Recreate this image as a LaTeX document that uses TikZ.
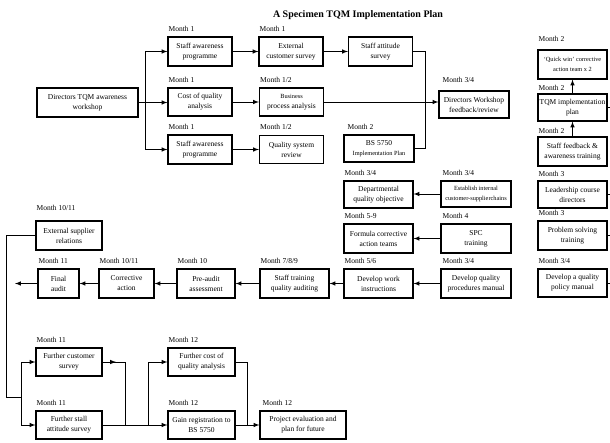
\documentclass[tikz,border=0pt]{standalone}
\usepackage{fontspec}
\setmainfont{Liberation Serif}
\usetikzlibrary{arrows,positioning,calc}
\newcommand{\stepsmall}{\fontsize{6.3}{7}\selectfont}

\begin{document}
\begin{tikzpicture}[x=1pt,y=-1pt] % one unit is one pixel of the plan, y runs down
\tikzset{box/.style 2 args={draw, line width=1.1pt, align=center, inner sep=1pt, minimum width=#1pt, minimum height=#2pt, font=\fontsize{7.5}{10}\selectfont}} % a step of the plan
\tikzset{month/.style={inner sep=1pt, font=\fontsize{7.5}{9}\selectfont}} % time label above a step
\tikzset{conn/.style={line width=1pt}, arr/.style={conn, -latex}} % connectors
\useasboundingbox (0,0) rectangle (610,442);
\node[font=\bfseries\fontsize{10}{12}\selectfont] (title) at (358,15) {A Specimen TQM Implementation Plan};
% first block
\node[box={101}{29}] (dtw) at (87.5,102.5) {Directors TQM awareness\\workshop};
\node[box={64}{29}] (saw1) at (200,51.5) {Staff awareness\\programme};
\node[box={64}{28}] (coq) at (200,102) {Cost of quality\\analysis};
\node[box={64}{29}] (saw2) at (200,149.5) {Staff awareness\\programme};
\node[box={64}{29}] (ecs) at (291,51.5) {External\\customer survey};
\node[box={64}{28}] (bpa) at (291.5,102) {{\stepsmall Business}\\process analysis};
\node[box={64}{28}] (qsr) at (291.5,149.5) {Quality system\\review};
\node[box={64}{29}] (sas) at (380.5,51.5) {Staff attitude\\survey};
\node[box={70}{27}] (bs) at (379,148.5) {BS 5750\\{\stepsmall Implementation Plan}};
\node[box={70}{27}] (dwf) at (474,104.5) {Directors Workshop\\feedback/review};
% middle block
\node[box={69}{27}] (dqo) at (378.5,194.5) {Departmental\\quality objective};
\node[box={69}{29}] (fca) at (378.5,238.5) {Formula corrective\\action teams};
\node[box={69}{29}] (dwi) at (378.5,283.5) {Develop work\\instructions};
\node[box={70}{26}] (eic) at (476,194) {{\stepsmall Establish internal}\\{\stepsmall customer-supplierchains}};
\node[box={70}{29}] (spc) at (476,238.5) {SPC\\training};
\node[box={70}{29}] (dqp) at (476,283.5) {Develop quality\\procedures manual};
\node[box={69}{29}] (stq) at (294.5,283.5) {Staff training\\quality auditing};
\node[box={58}{29}] (paa) at (206,283.5) {Pre-audit\\assessment};
\node[box={55}{29}] (cra) at (126.5,283.5) {Corrective\\action};
\node[box={41}{29}] (fau) at (58.5,283.5) {Final\\audit};
\node[box={66}{29}] (esr) at (69,235.5) {External supplier\\relations};
% last block
\node[box={66}{28}] (fcs) at (69,362) {Further customer\\survey};
\node[box={66}{28}] (fsa) at (69,425) {Further stall\\attitude survey};
\node[box={67}{28}] (fcq) at (201.5,362) {Further cost of\\quality analysis};
\node[box={67}{28}] (grb) at (201.5,425) {Gain registration to\\BS 5750};
\node[box={86}{28}] (pef) at (303,425) {Project evaluation and\\plan for future};
% right column
\node[box={69}{29}] (qwc) at (572.5,64.5) {{\stepsmall `Quick win' corrective}\\{\stepsmall action team x 2}};
\node[box={69}{27}] (tip) at (572.5,107.5) {TQM implementation\\plan};
\node[box={69}{29}] (sfa) at (572.5,151.5) {Staff feedback \&\\awareness training};
\node[box={69}{27}] (lcd) at (572.5,194.5) {Leadership course\\directors};
\node[box={69}{29}] (pst) at (572.5,235.5) {Problem solving\\training};
\node[box={69}{28}] (dqm) at (572.5,283) {Develop a quality\\policy manual};
% month labels
\node[month, above right=4pt and 0pt of saw1.north west] (m-saw1) {Month 1};
\node[month, above right=4pt and 0pt of coq.north west] (m-coq) {Month 1};
\node[month, above right=4pt and 0pt of saw2.north west] (m-saw2) {Month 1};
\node[month, above right=4pt and 0pt of ecs.north west] (m-ecs) {Month 1};
\node[month, above right=4pt and 0pt of bpa.north west] (m-bpa) {Month 1/2};
\node[month, above right=4pt and 0pt of qsr.north west] (m-qsr) {Month 1/2};
\node[month, above right=4pt and 3pt of bs.north west] (m-bs) {Month 2};
\node[month, above right=7pt and 3pt of dwf.north west] (m-dwf) {Month 3/4};
\node[month, above right=4pt and 0pt of dqo.north west] (m-dqo) {Month 3/4};
\node[month, above right=4pt and 0pt of fca.north west] (m-fca) {Month 5-9};
\node[month, above right=4pt and 0pt of dwi.north west] (m-dwi) {Month 5/6};
\node[month, above right=4pt and 1pt of eic.north west] (m-eic) {Month 3/4};
\node[month, above right=4pt and 1pt of spc.north west] (m-spc) {Month 4};
\node[month, above right=4pt and 1pt of dqp.north west] (m-dqp) {Month 3/4};
\node[month, above right=4pt and 0pt of stq.north west] (m-stq) {Month 7/8/9};
\node[month, above right=4pt and 0pt of paa.north west] (m-paa) {Month 10};
\node[month, above right=4pt and 0pt of cra.north west] (m-cra) {Month 10/11};
\node[month, above right=4pt and 0pt of fau.north west] (m-fau) {Month 11};
\node[month, above right=9pt and 0pt of esr.north west] (m-esr) {Month 10/11};
\node[month, above right=4pt and 0pt of fcs.north west] (m-fcs) {Month 11};
\node[month, above right=4pt and 0pt of fsa.north west] (m-fsa) {Month 11};
\node[month, above right=4pt and 0pt of fcq.north west] (m-fcq) {Month 12};
\node[month, above right=4pt and 0pt of grb.north west] (m-grb) {Month 12};
\node[month, above right=4pt and 2pt of pef.north west] (m-pef) {Month 12};
\node[month, above right=7pt and 0pt of qwc.north west] (m-qwc) {Month 2};
\node[month, above right=2pt and 0pt of tip.north west] (m-tip) {Month 2};
\node[month, above right=2pt and 0pt of sfa.north west] (m-sfa) {Month 2};
\node[month, above right=3pt and 0pt of lcd.north west] (m-lcd) {Month 3};
\node[month, above right=4pt and 0pt of pst.north west] (m-pst) {Month 3};
\node[month, above right=4pt and 0pt of dqm.north west] (m-dqm) {Month 3/4};
% connectors, first block
\coordinate (dsplit) at ($(dtw.east)+(7,0)$);
\draw[conn] (dtw.east) -- (dsplit);
\draw[arr] (dsplit) |- (saw1);
\draw[arr] (dsplit) -- (dsplit -| coq.west);
\draw[arr] (dsplit) |- (saw2);
\draw[arr] (saw1.east) -- (ecs.west);
\draw[arr] (coq.east) -- (bpa.west);
\draw[arr] (saw2.east) -- (qsr.west);
\draw[arr] (ecs.east) -- (sas.west);
\coordinate (sbend) at ($(sas.east)+(12,0)$);
\draw[conn] (sas.east) -- (sbend) |- (bs.east);
\draw[arr] (bpa.east) -- (bpa.east -| dwf.west);
% connectors, middle block
\draw[arr] (eic.west) -- (eic.west -| dqo.east);
\draw[arr] (spc.west) -- (fca.east);
\draw[arr] (dqp.west) -- (dwi.east);
\draw[arr] (dwi.west) -- (stq.east);
\draw[arr] (stq.west) -- (paa.east);
\draw[arr] (paa.west) -- (cra.east);
\draw[arr] (cra.west) -- (fau.east);
\coordinate (out) at (15,283.5);
\draw[arr] (fau.west) -- (out);
% connectors, last block
\coordinate (eleft) at (6,235.5);
\coordinate (esplit) at (21,397);
\draw[conn] (esr.west) -- (eleft) |- (esplit);
\draw[arr] (esplit) |- (fcs);
\draw[arr] (esplit) |- (fsa);
\coordinate (fjoin) at (125,425);
\draw[conn] (fcs.east) -| (fjoin);
\draw[arr] (fcs.east) -- ($(fcs.east)!0.6!(fjoin |- fcs.east)$);
\draw[arr] (fsa.east) -- (grb.west);
\coordinate (gsplit) at (148,425);
\draw[arr] (gsplit) |- (fcq);
\coordinate (fcqbend) at (247,362);
\draw[conn] (fcq.east) -- (fcqbend) -- (fcqbend |- pef.west);
\draw[arr] (grb.east) -- (pef.west);
% right column
\coordinate (rim) at (610,0);
\draw[arr] (sfa.north) -- (tip.south);
\draw[arr] (tip.north) -- (qwc.south);
\foreach \n in {tip,lcd,pst,dqm} \draw[conn] (\n.east) -- (\n.east -| rim);
\end{tikzpicture}
\end{document}
